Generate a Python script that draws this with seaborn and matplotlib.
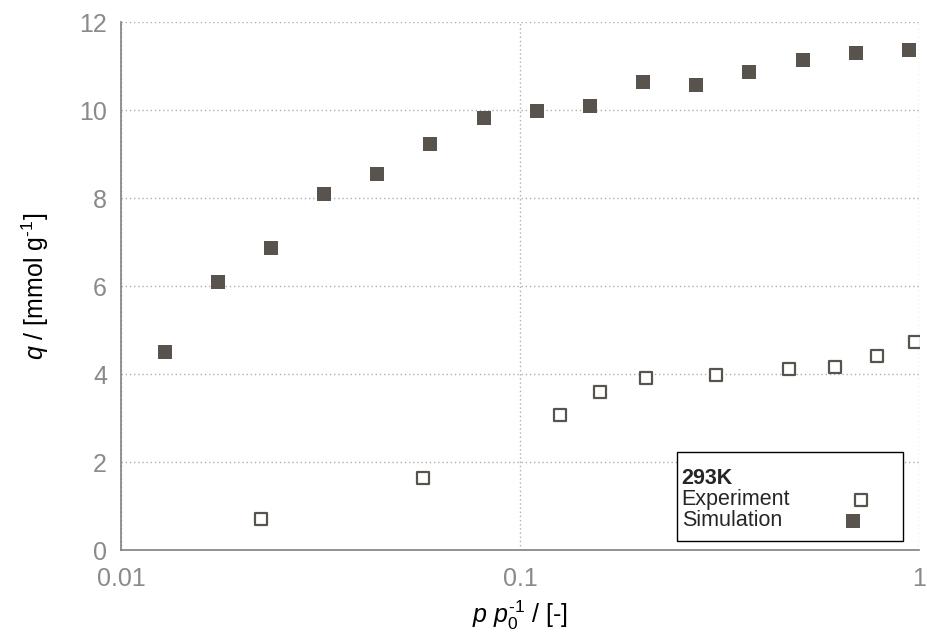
import matplotlib
matplotlib.use("Agg")
import matplotlib.pyplot as plt
from matplotlib.patches import Rectangle
import seaborn as sns
import pandas as pd
from matplotlib.ticker import LogLocator, FixedLocator, NullFormatter, FixedFormatter

# Adsorption isotherm at 293 K: relative pressure vs. uptake
exp_p = [0.02243, 0.0570, 0.1259, 0.1584, 0.207, 0.3104, 0.473, 0.617, 0.783, 0.979]
exp_q = [0.70, 1.64, 3.07, 3.60, 3.92, 3.97, 4.12, 4.15, 4.42, 4.72]

sim_p = [0.01291, 0.01754, 0.02381, 0.03234, 0.04389, 0.05960, 0.0812, 0.1105,
         0.150, 0.2037, 0.2767, 0.3757, 0.5128, 0.6966, 0.946]
sim_q = [4.49, 6.08, 6.86, 8.08, 8.54, 9.22, 9.82, 9.97,
         10.08, 10.63, 10.56, 10.86, 11.13, 11.29, 11.36]

x_ticks = [0.01, 0.1, 1]
x_ticklabels = ["0.01", "0.1", "1"]
y_ticks = [0, 2, 4, 6, 8, 10, 12]

exp_df = pd.DataFrame({"p": exp_p, "q": exp_q})
sim_df = pd.DataFrame({"p": sim_p, "q": sim_q})

sns.set_style("white")
plt.rcParams["font.family"] = ["Liberation Sans", "DejaVu Sans"]
plt.rcParams["mathtext.fontset"] = "custom"
plt.rcParams["mathtext.rm"] = "Liberation Sans"
plt.rcParams["mathtext.it"] = "Liberation Sans:italic"
plt.rcParams["mathtext.bf"] = "Liberation Sans:bold"

mark_col = "#59534d"
axis_col = "#808080"
grid_col = "#b0b0b0"

fig = plt.figure(figsize=(9.28, 6.36), dpi=100)
ax = fig.add_axes([0.1304, 0.1352, 0.8599, 0.8302])

sns.scatterplot(data=exp_df, x="p", y="q", ax=ax, marker="s", s=78,
                color="white", edgecolor=mark_col, linewidth=1.6,
                label="Experiment", zorder=3)
sns.scatterplot(data=sim_df, x="p", y="q", ax=ax, marker="s", s=88,
                color=mark_col, edgecolor=mark_col, linewidth=0,
                label="Simulation", zorder=3)

ax.set_xscale("log")
ax.set_xlim(0.01, 1)
ax.set_ylim(0, 12)

ax.xaxis.set_major_locator(FixedLocator(x_ticks))
ax.xaxis.set_major_formatter(FixedFormatter(x_ticklabels))
ax.xaxis.set_minor_locator(LogLocator(base=10, subs=range(2, 10)))
ax.xaxis.set_minor_formatter(NullFormatter())
ax.yaxis.set_major_locator(FixedLocator(y_ticks))

# Dotted grid at the major ticks
ax.grid(True, which="major", axis="both", linestyle=(0, (1, 2)),
        color=grid_col, linewidth=1.0)
ax.set_axisbelow(True)

for side in ["top", "right"]:
    ax.spines[side].set_visible(False)
for side in ["left", "bottom"]:
    ax.spines[side].set_color(axis_col)
    ax.spines[side].set_linewidth(1.2)

ax.tick_params(axis="both", which="major", direction="in", length=5,
               width=1, color=axis_col, labelcolor="#8a8a8a", labelsize=18)
ax.tick_params(axis="x", which="minor", direction="in", length=3,
               width=1, color=axis_col)
ax.tick_params(axis="x", which="major", pad=12)
ax.tick_params(axis="y", which="major", pad=10)

ax.set_xlabel(r"$p\ p_{\mathrm{0}}^{\text{-1}}$ / [-]", fontsize=18,
              color="black", labelpad=6)
ax.set_ylabel(r"$q$ / [mmol g$^{\text{-1}}$]", fontsize=18, color="black",
              labelpad=20)

# Key: labels on the left, markers on the right, inside a plain black box
leg = ax.legend(title="293K", loc="upper left", markerfirst=False,
                frameon=False, fontsize=15.5,
                title_fontproperties={"weight": "bold", "size": 15.5},
                alignment="left", handletextpad=2.3, borderpad=0.0,
                labelspacing=0.0, handlelength=2.0,
                bbox_to_anchor=(0.689, 0.175))
for col in leg._legend_handle_box.get_children():
    col.align = "left"

ax.add_patch(Rectangle((0.6967, 0.017), 0.2833, 0.1689,
                       transform=ax.transAxes, facecolor="white",
                       edgecolor="black", linewidth=1.0, zorder=4))
leg.set_zorder(5)

fig.savefig("out.png", dpi=100)
